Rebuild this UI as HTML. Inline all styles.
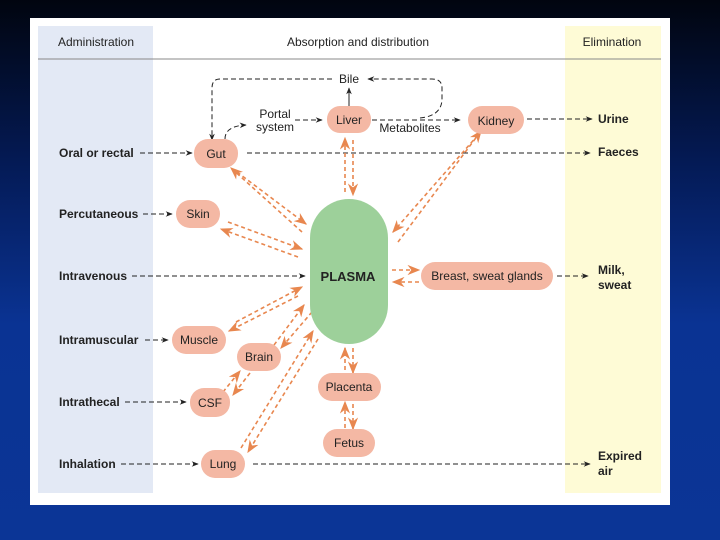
<!DOCTYPE html>
<html><head><meta charset="utf-8"><style>
html,body{margin:0;padding:0}
body{width:720px;height:540px;overflow:hidden;background:linear-gradient(180deg,#01050f 0%,#041a55 30%,#0a3393 60%,#0b3596 100%);font-family:"Liberation Sans",sans-serif}
svg{position:absolute;left:0;top:0}
text{font-family:"Liberation Sans",sans-serif;fill:#222}
</style></head><body>
<svg width="720" height="540" viewBox="0 0 720 540">
<defs>
<marker id="ba" viewBox="0 0 10 10" refX="9" refY="5" markerWidth="7" markerHeight="7" orient="auto"><path d="M0,1 L10,5 L0,9 L3,5z" fill="#222"/></marker>
<marker id="oa" viewBox="0 0 10 10" refX="9" refY="5" markerWidth="8" markerHeight="8" orient="auto"><path d="M0,1 L10,5 L0,9 L3,5z" fill="#e8874f"/></marker>
</defs>
<rect x="30" y="18" width="640" height="487" fill="#fff"/>
<rect x="38" y="26" width="115" height="467" fill="#e3e9f5"/>
<rect x="565" y="26" width="96" height="467" fill="#fefbd6"/>
<line x1="38" y1="59" x2="661" y2="59" stroke="#888" stroke-width="1"/>
<g font-size="12">
<text x="96" y="46" text-anchor="middle">Administration</text>
<text x="358" y="46" text-anchor="middle">Absorption and distribution</text>
<text x="612" y="46" text-anchor="middle">Elimination</text>
</g>
<g font-size="12" font-weight="bold">
<text x="59" y="157">Oral or rectal</text>
<text x="59" y="218">Percutaneous</text>
<text x="59" y="280">Intravenous</text>
<text x="59" y="344">Intramuscular</text>
<text x="59" y="406">Intrathecal</text>
<text x="59" y="468">Inhalation</text>
<text x="598" y="123">Urine</text>
<text x="598" y="156">Faeces</text>
<text x="598" y="274">Milk,</text>
<text x="598" y="289">sweat</text>
<text x="598" y="460">Expired</text>
<text x="598" y="475">air</text>
</g>
<g stroke="#222" stroke-width="1" stroke-dasharray="5,3" fill="none" marker-end="url(#ba)">
<line x1="140" y1="153" x2="192" y2="153"/>
<line x1="247" y1="153" x2="590" y2="153"/>
<line x1="143" y1="214" x2="172" y2="214"/>
<line x1="132" y1="276" x2="305" y2="276"/>
<line x1="145" y1="340" x2="168" y2="340"/>
<line x1="125" y1="402" x2="186" y2="402"/>
<line x1="121" y1="464" x2="198" y2="464"/>
<line x1="253" y1="464" x2="590" y2="464"/>
<line x1="527" y1="119" x2="592" y2="119"/>
<line x1="557" y1="276" x2="588" y2="276"/>
<path d="M225,139 Q225,126 246,125"/>
<line x1="295" y1="120" x2="322" y2="120"/>
<line x1="372" y1="120" x2="460" y2="120"/>
<path d="M420,118 Q441,116 442,100 L442,88 Q442,79 432,79 L368,79"/>
<path d="M332,79 L220,79 Q212,79 212,88 L212,140"/>
</g>
<line x1="349" y1="106" x2="349" y2="88" stroke="#222" stroke-width="1" marker-end="url(#ba)"/>
<g stroke="#e8874f" stroke-width="1.6" stroke-dasharray="4,3" fill="none" marker-end="url(#oa)">
<line x1="237" y1="172" x2="306" y2="224"/><line x1="302" y1="232" x2="231" y2="168"/>
<line x1="228" y1="222" x2="302" y2="249"/><line x1="298" y1="257" x2="221" y2="229"/>
<line x1="236" y1="322" x2="302" y2="287"/><line x1="298" y1="296" x2="229" y2="331"/>
<line x1="274" y1="345" x2="304" y2="305"/><line x1="312" y1="312" x2="281" y2="348"/>
<line x1="223" y1="392" x2="240" y2="371"/><line x1="250" y1="373" x2="233" y2="395"/>
<line x1="241" y1="448" x2="313" y2="331"/><line x1="318" y1="339" x2="248" y2="452"/>
<line x1="345" y1="192" x2="345" y2="138"/><line x1="353" y1="140" x2="353" y2="195"/>
<line x1="478" y1="135" x2="393" y2="232"/><line x1="398" y1="242" x2="481" y2="131"/>
<line x1="392" y1="270" x2="419" y2="270"/><line x1="419" y1="282" x2="393" y2="282"/>
<line x1="345" y1="370" x2="345" y2="348"/><line x1="353" y1="348" x2="353" y2="373"/>
<line x1="345" y1="428" x2="345" y2="402"/><line x1="353" y1="404" x2="353" y2="429"/>
</g>
<rect x="310" y="199" width="78" height="145" rx="39" fill="#9dd09a"/>
<text x="348" y="281" text-anchor="middle" font-size="13" font-weight="bold">PLASMA</text>
<g fill="#f4b8a4">
<rect x="194" y="139" width="44" height="29" rx="14"/>
<rect x="176" y="200" width="44" height="28" rx="14"/>
<rect x="172" y="326" width="54" height="28" rx="14"/>
<rect x="237" y="343" width="44" height="28" rx="14"/>
<rect x="190" y="388" width="40" height="29" rx="14"/>
<rect x="201" y="450" width="44" height="28" rx="14"/>
<rect x="327" y="106" width="44" height="27" rx="13"/>
<rect x="468" y="106" width="56" height="28" rx="14"/>
<rect x="421" y="262" width="132" height="28" rx="14"/>
<rect x="318" y="373" width="63" height="28" rx="14"/>
<rect x="323" y="429" width="52" height="28" rx="14"/>
</g>
<g font-size="12" text-anchor="middle">
<text x="216" y="158">Gut</text>
<text x="198" y="218">Skin</text>
<text x="199" y="344">Muscle</text>
<text x="259" y="361">Brain</text>
<text x="210" y="407">CSF</text>
<text x="223" y="468">Lung</text>
<text x="349" y="124">Liver</text>
<text x="496" y="125">Kidney</text>
<text x="487" y="280">Breast, sweat glands</text>
<text x="349" y="391">Placenta</text>
<text x="349" y="447">Fetus</text>
<text x="349" y="83">Bile</text>
<text x="275" y="118">Portal</text>
<text x="275" y="131">system</text>
<text x="410" y="132">Metabolites</text>
</g>
</svg>
</body></html>
